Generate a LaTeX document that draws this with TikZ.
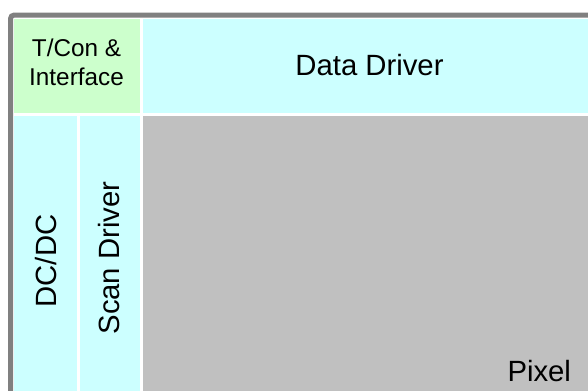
\documentclass[tikz,border=0pt]{standalone}
\usepackage{fontspec}
\setmainfont{Liberation Sans}
\definecolor{bordergray}{HTML}{808080}
\definecolor{tgreen}{HTML}{CCFFCC}
\definecolor{tcyan}{HTML}{CCFFFF}
\definecolor{pgray}{HTML}{C0C0C0}
\begin{document}
\begin{tikzpicture}[x=1bp,y=-1bp,
  lbl/.style={inner sep=0pt, outer sep=0pt, text=black, font=\fontsize{29.3bp}{35bp}\selectfont},
  lblsmall/.style={inner sep=0pt, outer sep=0pt, text=black, align=center, font=\fontsize{24.3bp}{28.3bp}\selectfont}]
\useasboundingbox (0,0) rectangle (588,390);
\clip (0,0) rectangle (588,390);
% outer frame
\draw[bordergray, line width=5bp, rounded corners=3bp] (10.7,700) -- (10.7,15.2) -- (700,15.2);
% blocks
\fill[tgreen] (14,19) rectangle (140,112.5);
\fill[tcyan] (143,19) rectangle (600,112.5);
\fill[tcyan] (14,115.5) rectangle (77.3,400);
\fill[tcyan] (80,115.5) rectangle (140,400);
\fill[pgray] (143,115.5) rectangle (600,400);
% labels
\node[lblsmall, anchor=base] (tcon) at (76.5,56.7) {T/Con \&};
\node[lblsmall, anchor=base] (iface) at (76.5,85) {Interface};
\node[lbl, anchor=base] (data) at (369.5,75) {Data Driver};
\node[lbl, anchor=base, rotate=90] (dcdc) at (56.5,261) {DC/DC};
\node[lbl, anchor=base, rotate=90] (scan) at (119.5,258) {Scan Driver};
\node[lbl, anchor=base east] (pixel) at (571,381) {Pixel};
\end{tikzpicture}
\end{document}
